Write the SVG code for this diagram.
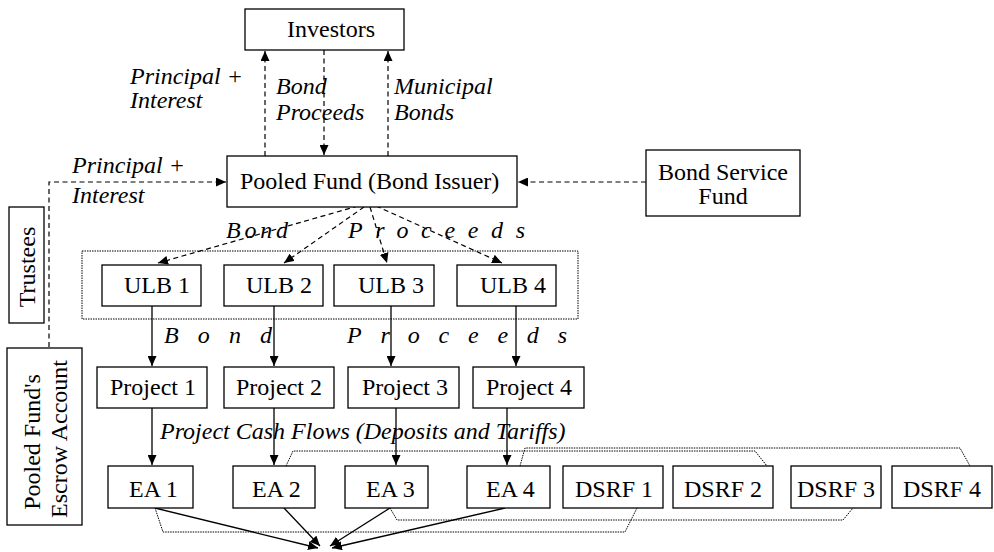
<svg xmlns="http://www.w3.org/2000/svg" width="994" height="552" viewBox="0 0 994 552">
<defs>
<marker id="ah" markerUnits="userSpaceOnUse" markerWidth="11" markerHeight="9" refX="10" refY="4.5" orient="auto">
<path d="M0,0 L10,4.5 L0,9 z" fill="#000"/>
</marker>
<style>
.box{fill:#fff;stroke:#000;stroke-width:1.3}
text{font-family:'Liberation Serif','Times New Roman','DejaVu Serif',serif;font-size:24px;fill:#000}
.i{font-style:italic}
.dash{fill:none;stroke:#000;stroke-width:1.2;stroke-dasharray:5 3.5}
.solid{fill:none;stroke:#000;stroke-width:1.3}
.dot{fill:none;stroke:#000;stroke-width:1;stroke-dasharray:1.5 1}
</style>
</defs>
<rect width="994" height="552" fill="#fff"/>

<g id="connectors">
<rect class="dot" x="82" y="251" width="496" height="68"/>
<line class="dash" x1="265" y1="156" x2="265" y2="51" marker-end="url(#ah)"/>
<line class="dash" x1="324" y1="50" x2="324" y2="155" marker-end="url(#ah)"/>
<line class="dash" x1="388" y1="156" x2="388" y2="51" marker-end="url(#ah)"/>
<line class="dash" x1="646" y1="182" x2="518" y2="182" marker-end="url(#ah)"/>
<polyline class="dash" points="49,347 49,182 226,182" marker-end="url(#ah)"/>
<line class="dash" x1="358" y1="206" x2="158" y2="263" marker-end="url(#ah)"/>
<line class="dash" x1="364" y1="207" x2="284" y2="263" marker-end="url(#ah)"/>
<line class="dash" x1="370" y1="207" x2="387" y2="263" marker-end="url(#ah)"/>
<line class="dash" x1="376" y1="206" x2="502" y2="263" marker-end="url(#ah)"/>
<line class="solid" x1="152" y1="306" x2="152" y2="366" marker-end="url(#ah)"/>
<line class="solid" x1="274" y1="306" x2="274" y2="366" marker-end="url(#ah)"/>
<line class="solid" x1="391" y1="306" x2="391" y2="366" marker-end="url(#ah)"/>
<line class="solid" x1="516" y1="306" x2="516" y2="366" marker-end="url(#ah)"/>
<line class="solid" x1="152" y1="408" x2="152" y2="465" marker-end="url(#ah)"/>
<line class="solid" x1="274" y1="408" x2="274" y2="465" marker-end="url(#ah)"/>
<line class="solid" x1="396" y1="408" x2="396" y2="465" marker-end="url(#ah)"/>
<line class="solid" x1="507" y1="408" x2="507" y2="465" marker-end="url(#ah)"/>
<polyline class="dot" points="286,466 293,451 755,451 767,466"/>
<polyline class="dot" points="520,466 525,448 960,448 970,466"/>
<polyline class="dot" points="155,508 163,532 625,532 637,508"/>
<polyline class="dot" points="390,508 397,520 843,520 853,508"/>
<line class="solid" x1="155" y1="508" x2="318" y2="548" marker-end="url(#ah)"/>
<line class="solid" x1="284" y1="508" x2="320" y2="546" marker-end="url(#ah)"/>
<line class="solid" x1="390" y1="508" x2="330" y2="546" marker-end="url(#ah)"/>
<line class="solid" x1="505" y1="508" x2="332" y2="548" marker-end="url(#ah)"/>
</g>

<g id="investors"><rect class="box" x="245" y="9" width="159" height="41"/><text x="287" y="37">Investors</text></g>
<g id="pooled-fund"><rect class="box" x="227" y="156" width="290" height="51"/><text x="240" y="189">Pooled Fund (Bond Issuer)</text></g>
<g id="bond-service-fund"><rect class="box" x="646" y="150" width="154" height="66"/><text x="723" y="180" text-anchor="middle">Bond Service</text><text x="723" y="204" text-anchor="middle">Fund</text></g>
<g id="trustees"><rect class="box" x="9" y="207" width="35" height="116"/><text transform="translate(35,267) rotate(-90)" text-anchor="middle">Trustees</text></g>
<g id="escrow"><rect class="box" x="7" y="348" width="75" height="177"/><text transform="translate(40,442) rotate(-90)" text-anchor="middle">Pooled Fund's</text><text transform="translate(67,439) rotate(-90)" text-anchor="middle">Escrow Account</text></g>

<g id="ulb1"><rect class="box" x="102" y="265" width="99" height="41"/><text x="124" y="293">ULB 1</text></g>
<g id="ulb2"><rect class="box" x="224" y="265" width="99" height="41"/><text x="246" y="293">ULB 2</text></g>
<g id="ulb3"><rect class="box" x="334" y="265" width="100" height="41"/><text x="358" y="293">ULB 3</text></g>
<g id="ulb4"><rect class="box" x="457" y="265" width="99" height="41"/><text x="480" y="293">ULB 4</text></g>

<g id="project1"><rect class="box" x="97" y="367" width="110" height="41"/><text x="110" y="395">Project 1</text></g>
<g id="project2"><rect class="box" x="224" y="367" width="110" height="41"/><text x="236" y="395">Project 2</text></g>
<g id="project3"><rect class="box" x="348" y="367" width="111" height="41"/><text x="362" y="395">Project 3</text></g>
<g id="project4"><rect class="box" x="473" y="367" width="111" height="41"/><text x="486" y="395">Project 4</text></g>

<g id="ea1"><rect class="box" x="108" y="466" width="85" height="42"/><text x="129" y="497">EA 1</text></g>
<g id="ea2"><rect class="box" x="233" y="466" width="82" height="42"/><text x="252" y="497">EA 2</text></g>
<g id="ea3"><rect class="box" x="345" y="466" width="83" height="42"/><text x="366" y="497">EA 3</text></g>
<g id="ea4"><rect class="box" x="467" y="466" width="83" height="42"/><text x="486" y="497">EA 4</text></g>
<g id="dsrf1"><rect class="box" x="563" y="466" width="100" height="42"/><text x="575" y="497">DSRF 1</text></g>
<g id="dsrf2"><rect class="box" x="673" y="466" width="100" height="42"/><text x="684" y="497">DSRF 2</text></g>
<g id="dsrf3"><rect class="box" x="791" y="466" width="90" height="42"/><text x="797" y="497">DSRF 3</text></g>
<g id="dsrf4"><rect class="box" x="892" y="466" width="100" height="42"/><text x="903" y="497">DSRF 4</text></g>

<g id="labels">
<text class="i" x="130" y="84">Principal +</text>
<text class="i" x="130" y="108">Interest</text>
<text class="i" x="276" y="94">Bond</text>
<text class="i" x="276" y="120">Proceeds</text>
<text class="i" x="394" y="94">Municipal</text>
<text class="i" x="394" y="120">Bonds</text>
<text class="i" x="72" y="173">Principal +</text>
<text class="i" x="72" y="203">Interest</text>
<text class="i" x="226" y="238" textLength="62" lengthAdjust="spacing">Bond</text>
<text class="i" x="348" y="238" textLength="177" lengthAdjust="spacing">Proceeds</text>
<text class="i" x="164" y="343" textLength="108" lengthAdjust="spacing">Bond</text>
<text class="i" x="347" y="343" textLength="220" lengthAdjust="spacing">Proceeds</text>
<text class="i" x="160" y="439">Project Cash Flows (Deposits and Tariffs)</text>
</g>
</svg>
